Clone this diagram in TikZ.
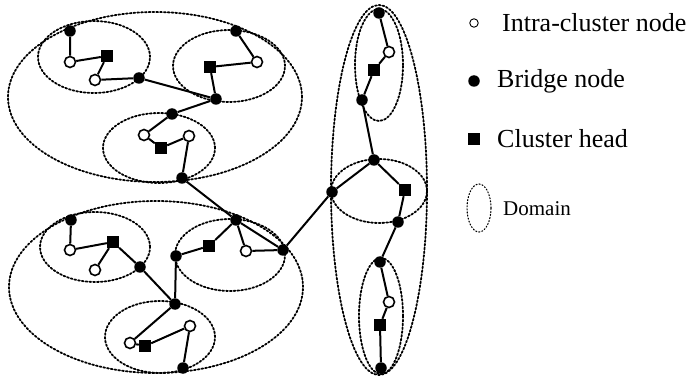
\documentclass[tikz,border=0pt]{standalone}
\usepackage{fontspec}
\setmainfont{Liberation Serif}
\usepackage{tikz}
\usetikzlibrary{positioning}

\tikzset{
  bridge/.style={circle, fill=black, inner sep=0pt, minimum size=11.5pt},
  intra/.style={circle, draw=black, fill=white, line width=1.6pt, inner sep=0pt, minimum size=11pt},
  chead/.style={rectangle, fill=black, inner sep=0pt, minimum size=12pt},
  domring/.style={dotted, line width=1.8pt, line cap=round},
  link/.style={line width=2pt},
  legtext/.style={anchor=west, inner sep=0pt, font=\fontsize{26}{30}\selectfont},
}

\begin{document}
\begin{tikzpicture}[x=1pt,y=1pt]
    \useasboundingbox (0,0) rectangle (689,-377);
    % domains
    \draw [domring] (155,-97) ellipse (147 and 85);
    \draw [domring] (94,-57) ellipse (56 and 36);
    \draw [domring] (229,-66) ellipse (56 and 36);
    \draw [domring] (159,-148) ellipse (56 and 35);
    \draw [domring] (156,-287) ellipse (147 and 86);
    \draw [domring] (95,-247) ellipse (55 and 35);
    \draw [domring] (230,-255) ellipse (55 and 36);
    \draw [domring] (160,-337) ellipse (55 and 36);
    \draw [domring] (379,-190) ellipse (48 and 185);
    \draw [domring] (379,-65) ellipse (24 and 56);
    \draw [domring] (379,-191) ellipse (48 and 32);
    \draw [domring] (381,-316) ellipse (22 and 58);
    % upper domain
    \node [bridge] (tl1) at (70,-31) {};
    \node [intra] (tl2) at (70,-62) {};
    \node [chead] (tl3) at (107,-56) {};
    \node [intra] (tl4) at (95,-80) {};
    \node [bridge] (tl5) at (139,-78) {};
    \node [bridge] (tr1) at (236,-31) {};
    \node [intra] (tr2) at (257,-62) {};
    \node [chead] (tr3) at (210,-67) {};
    \node [bridge] (tr4) at (216,-99) {};
    \node [bridge] (tb1) at (172,-114) {};
    \node [intra] (tb2) at (144,-135) {};
    \node [chead] (tb3) at (161,-148) {};
    \node [intra] (tb4) at (189,-136) {};
    \node [bridge] (tb5) at (182,-178) {};
    % lower domain
    \node [bridge] (bl1) at (71,-220) {};
    \node [intra] (bl2) at (70,-250) {};
    \node [chead] (bl3) at (113,-242) {};
    \node [intra] (bl4) at (95,-270) {};
    \node [bridge] (bl5) at (140,-267) {};
    \node [bridge] (br1) at (236,-220) {};
    \node [chead] (br2) at (209,-246) {};
    \node [intra] (br3) at (246,-251) {};
    \node [bridge] (br4) at (283,-250) {};
    \node [bridge] (br5) at (176,-256) {};
    \node [bridge] (bb1) at (175,-304) {};
    \node [intra] (bb2) at (130,-343) {};
    \node [chead] (bb3) at (145,-346) {};
    \node [intra] (bb4) at (190,-326) {};
    \node [bridge] (bb5) at (183,-368) {};
    % right domain
    \node [bridge] (r1) at (379,-13) {};
    \node [intra] (r2) at (389,-52) {};
    \node [chead] (r3) at (374,-70) {};
    \node [bridge] (r4) at (362,-100) {};
    \node [bridge] (r5) at (374,-160) {};
    \node [bridge] (r6) at (332,-192) {};
    \node [chead] (r7) at (405,-190) {};
    \node [bridge] (r8) at (398,-222) {};
    \node [bridge] (r9) at (380,-262) {};
    \node [intra] (r10) at (389,-302) {};
    \node [chead] (r11) at (380,-325) {};
    \node [bridge] (r12) at (381,-368) {};
    % links
    \draw [link] (tl1) -- (tl2) -- (tl3) -- (tl4) -- (tl5) -- (tr4);
    \draw [link] (tr1) -- (tr2) -- (tr3) -- (tr4) -- (tb1);
    \draw [link] (tb1) -- (tb2) -- (tb3) -- (tb4) -- (tb5) -- (br1);
    \draw [link] (bl1) -- (bl2) -- (bl3) -- (bl4);
    \draw [link] (bl3) -- (bl5) -- (bb1);
    \draw [link] (br1) -- (br2) -- (br5) -- (bb1);
    \draw [link] (br1) -- (br3) -- (br4);
    \draw [link] (br1) -- (br4) -- (r6);
    \draw [link] (bb1) -- (bb2) -- (bb3) -- (bb4) -- (bb5);
    \draw [link] (r1) -- (r2) -- (r3) -- (r4) -- (r5) -- (r6);
    \draw [link] (r5) -- (r7) -- (r8) -- (r9) -- (r10) -- (r11) -- (r12);
    % legend
    \node [intra, line width=0.9pt, minimum size=8.5pt] (keyintra) at (474,-23) {};
    \node [legtext] (txtintra) at (502,-23) {Intra-cluster node};
    \node [bridge] (keybridge) at (474,-81) {};
    \node [legtext] (txtbridge) at (497,-81) {Bridge node};
    \node [chead, minimum size=12.5pt] (keyhead) at (474,-139) {};
    \node [legtext] (txthead) at (497,-139) {Cluster head};
    \draw [domring, line width=1.1pt] (479,-208) ellipse (12 and 24);
    \node [legtext, font=\fontsize{21}{24}\selectfont] (txtdomain) at (503,-209) {Domain};
\end{tikzpicture}
\end{document}
